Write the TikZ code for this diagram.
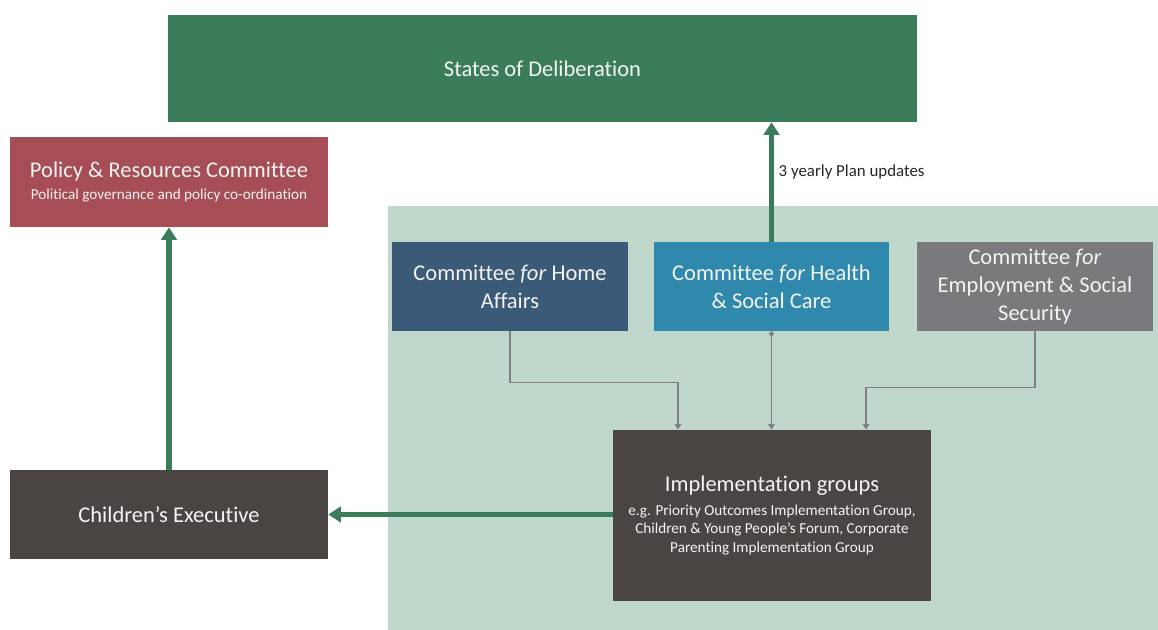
\documentclass[tikz,border=0pt]{standalone}
\usepackage{fontspec}
\setmainfont{Carlito}[Ligatures=CommonOff]
\usepackage{xcolor}
\usepackage{tikz}
\usetikzlibrary{arrows.meta, positioning}
\definecolor{statesgreen}{HTML}{3B7D5A}
\definecolor{policyred}{HTML}{A64D55}
\definecolor{panelbg}{HTML}{C0D8CC}
\definecolor{homeblue}{HTML}{3A5A78}
\definecolor{healthblue}{HTML}{2F89AC}
\definecolor{empgray}{HTML}{7A797E}
\definecolor{darkbox}{HTML}{4A4543}
\definecolor{linkgray}{HTML}{808080}
\definecolor{boxtext}{HTML}{F4F4F4}
\newcommand{\smalltext}{\fontsize{10.8}{13.5}\selectfont}

\begin{document}
\begin{tikzpicture}[x=0.025cm, y=-0.025cm,
    box/.style={rectangle, inner sep=0pt, align=center, text=boxtext, font=\fontsize{16}{19.8}\selectfont},
    arrow/.style={-{Triangle[width=11pt,length=9pt]}, line width=3.6pt, statesgreen},
    link/.style={-{Triangle[width=4.5pt,length=4pt]}, line width=1.1pt, linkgray}
]
\useasboundingbox (0,0) rectangle (1158,630);

% shaded area behind the committees
\fill[panelbg] (388,206) rectangle (1158,630);

\node[box, fill=statesgreen, minimum width=749*0.025cm, minimum height=107*0.025cm] (states) at (542.5,68.5) {States of Deliberation};
\node[box, fill=policyred, minimum width=318*0.025cm, minimum height=90*0.025cm] (policy) at (169,182)
    {Policy \& Resources Committee\\[-3.8pt]\fontsize{10.8}{12}\selectfont Political governance and policy co-ordination};
\node[box, fill=homeblue, minimum width=236*0.025cm, minimum height=89*0.025cm] (home) at (510,286.5)
    {Committee \textit{for} Home\\Affairs};
\node[box, fill=healthblue, minimum width=235*0.025cm, minimum height=89*0.025cm] (health) at (771.5,286.5)
    {Committee \textit{for} Health\\\& Social Care};
\node[box, fill=empgray, minimum width=236*0.025cm, minimum height=89*0.025cm] (employ) at (1035,286.5)
    {Committee \textit{for}\\Employment \& Social\\Security};
\node[box, fill=darkbox, minimum width=318*0.025cm, minimum height=171*0.025cm] (impl) at (772,515.5)
    {Implementation groups\\[-3pt]\smalltext e.g. Priority Outcomes Implementation Group,\\[-6.5pt]\smalltext Children \& Young People’s Forum, Corporate\\[-6.5pt]\smalltext Parenting Implementation Group};
\node[box, fill=darkbox, minimum width=318*0.025cm, minimum height=89*0.025cm] (execs) at (169,514.5) {Children’s Executive};

\draw[arrow] (health.north) -- node[right, pos=0.58, xshift=0pt, text=black!85, font=\fontsize{12}{14}\selectfont] {3 yearly Plan updates} (health.north |- states.south);
\draw[arrow] (execs.north) -- (policy.south);
\draw[arrow] (impl.west |- execs.east) -- (execs.east);

\draw[link] (home.south) -- ++(0,51) -| ([xshift=-94*0.025cm]impl.north);
\draw[link, {Circle[length=3.5pt]}-{Triangle[width=4.5pt,length=4pt]}] (health.south) -- (health.south |- impl.north);
\draw[link] (employ.south) -- ++(0,56) -| ([xshift=94*0.025cm]impl.north);

\end{tikzpicture}
\end{document}
